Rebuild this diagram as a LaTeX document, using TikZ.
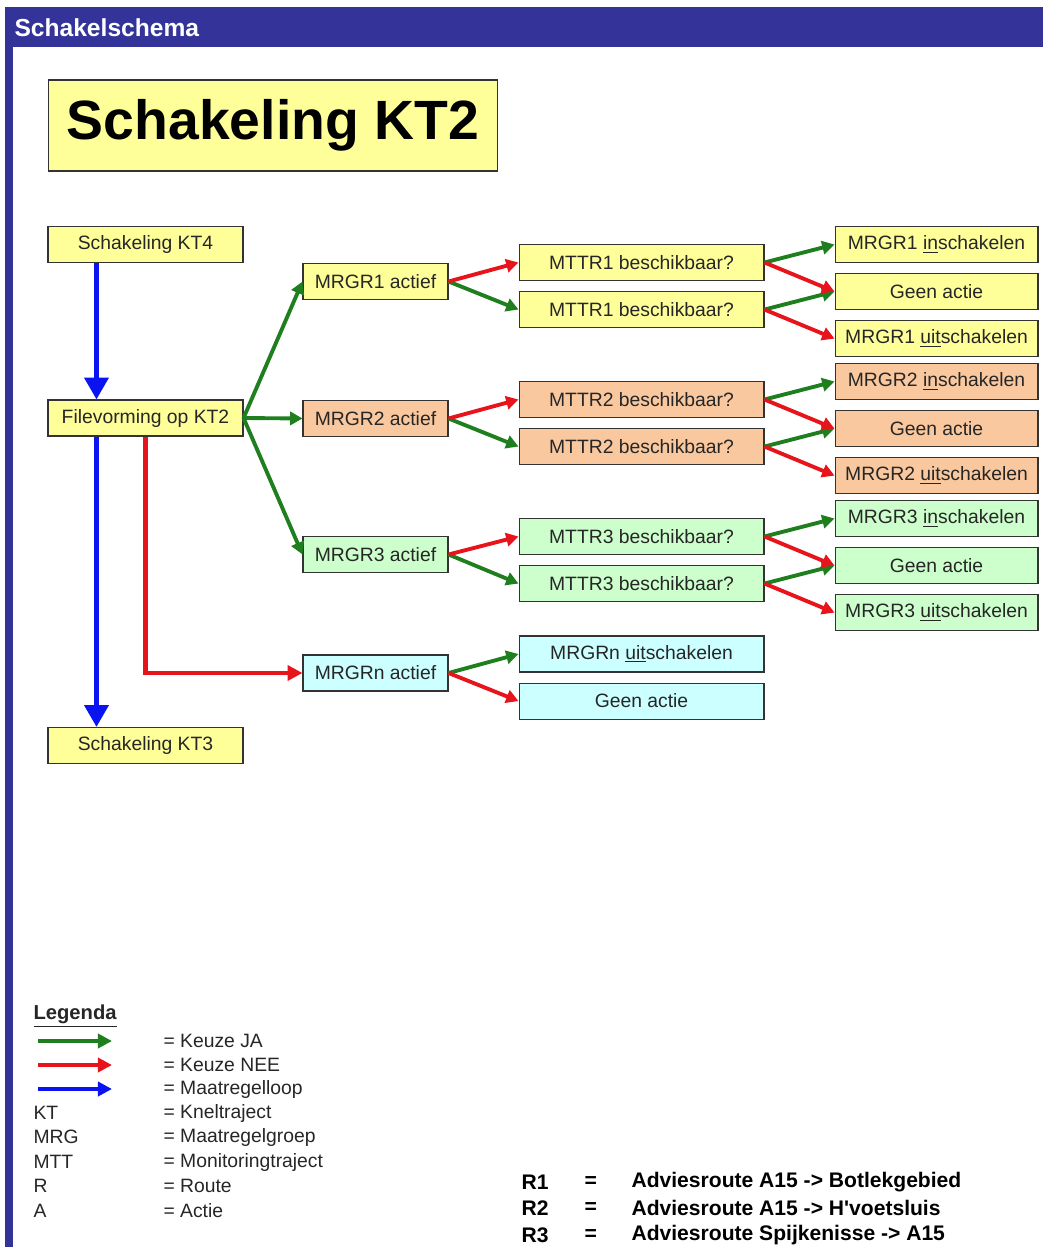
\documentclass[tikz,border=0pt]{standalone}
\usepackage{fontspec}
\setmainfont{Liberation Sans}
\usepackage{tikz}
\usetikzlibrary{positioning}
\usetikzlibrary{arrows.meta}
\usetikzlibrary{calc}
\definecolor{kopblauw}{HTML}{333399}
\definecolor{geel}{HTML}{FFFF99}
\definecolor{oranje}{HTML}{FAC89E}
\definecolor{lichtgroen}{HTML}{CCFFCC}
\definecolor{lichtblauw}{HTML}{CCFFFF}
\definecolor{jagroen}{HTML}{1F7F1F}
\definecolor{neerood}{HTML}{E8141B}
\definecolor{loopblauw}{HTML}{0A14F0}
\tikzset{box/.style={rectangle,draw=black!80,fill=#1,minimum height=0.72cm,inner sep=0pt,text=black!85,font=\fontsize{11}{13}\selectfont},
  start node/.style={box=#1,minimum width=3.9cm},
  actief node/.style={box=#1,minimum width=2.9cm},
  vraag node/.style={box=#1,minimum width=4.9cm},
  actie node/.style={box=#1,minimum width=4.06cm},
  ja/.style={draw=jagroen,line width=2.2pt,-{Triangle[length=7pt,width=7.5pt]}},
  nee/.style={draw=neerood,line width=2.2pt,-{Triangle[length=7pt,width=7.5pt]}},
  maatregel/.style={draw=loopblauw,line width=2.8pt,-{Triangle[length=12.5pt,width=13.5pt]}},
  legtekst/.style={anchor=west,inner sep=0pt,text=black!85,font=\fontsize{11}{13}\selectfont},
  routetekst/.style={anchor=west,inner sep=0pt,font=\fontsize{12}{14}\selectfont\bfseries},
}

\begin{document}
\begin{tikzpicture}[x=0.02cm, y=-0.02cm, semithick]
	% kader
	\useasboundingbox (0,0) rectangle (1043,1247);
	\fill[kopblauw] (5,7) rectangle (1043,47);
	\fill[kopblauw] (5,7) rectangle (13,1247);
	\node[anchor=west, inner sep=0pt, text=white, font=\fontsize{14}{16}\selectfont\bfseries] (kop) at (14,28) {Schakelschema};
	\node[box=geel, minimum width=9cm, minimum height=1.82cm, font=\fontsize{31.5}{36}\selectfont\bfseries, text=black] (titel) at (273,125.5) {Schakeling KT2};

	% linker kolom
	\node[start node=geel] (kt4) at (145.5,244.5) {Schakeling KT4};
	\node[start node=geel] (file) at (145.5,418) {Filevorming op KT2};
	\node[start node=geel] (kt3) at (145.5,745.5) {Schakeling KT3};

	% maatregelgroepen
	\node[actief node=geel] (mrgr1) at (375.5,281.5) {MRGR1 actief};
	\node[actief node=oranje] (mrgr2) at (375.5,418.5) {MRGR2 actief};
	\node[actief node=lichtgroen] (mrgr3) at (375.5,554.5) {MRGR3 actief};
	\node[actief node=lichtblauw] (mrgrn) at (375.5,673) {MRGRn actief};

	% monitoringtrajecten
	\node[vraag node=geel] (mttr1a) at (641.5,262.5) {MTTR1 beschikbaar?};
	\node[vraag node=geel] (mttr1b) [below = 0.2cm of mttr1a] {MTTR1 beschikbaar?};
	\node[vraag node=oranje] (mttr2a) at (641.5,399.5) {MTTR2 beschikbaar?};
	\node[vraag node=oranje] (mttr2b) [below = 0.2cm of mttr2a] {MTTR2 beschikbaar?};
	\node[vraag node=lichtgroen] (mttr3a) at (641.5,536.5) {MTTR3 beschikbaar?};
	\node[vraag node=lichtgroen] (mttr3b) [below = 0.2cm of mttr3a] {MTTR3 beschikbaar?};
	\node[vraag node=lichtblauw] (uitn) at (641.5,654) {MRGRn \underline{uit}schakelen};
	\node[vraag node=lichtblauw] (geenn) [below = 0.2cm of uitn] {Geen actie};

	% acties
	\node[actie node=geel] (in1) at (936.5,244.5) {MRGR1 \underline{in}schakelen};
	\node[actie node=geel] (geen1) [below = 0.2cm of in1] {Geen actie};
	\node[actie node=geel] (uit1) [below = 0.2cm of geen1] {MRGR1 \underline{uit}schakelen};
	\node[actie node=oranje] (in2) at (936.5,381.5) {MRGR2 \underline{in}schakelen};
	\node[actie node=oranje] (geen2) [below = 0.2cm of in2] {Geen actie};
	\node[actie node=oranje] (uit2) [below = 0.2cm of geen2] {MRGR2 \underline{uit}schakelen};
	\node[actie node=lichtgroen] (in3) at (936.5,518.5) {MRGR3 \underline{in}schakelen};
	\node[actie node=lichtgroen] (geen3) [below = 0.2cm of in3] {Geen actie};
	\node[actie node=lichtgroen] (uit3) [below = 0.2cm of geen3] {MRGR3 \underline{uit}schakelen};

	% maatregelloop
	\draw[maatregel] ([xshift=0.98cm]kt4.south west) -- ([xshift=0.98cm]file.north west);
	\draw[maatregel] ([xshift=0.98cm]file.south west) -- ([xshift=0.98cm]kt3.north west);
	\draw[nee, line width=2.8pt, -{Triangle[length=8.5pt,width=8.5pt]}] (file.south) |- (mrgrn.west);

	% keuzes
	\path
	(file.east) edge[ja] (mrgr1.west)
	(file.east) edge[ja] (mrgr2.west)
	(file.east) edge[ja] (mrgr3.west)
	(mrgr1.east) edge[ja] (mttr1b.west)
	(mrgr2.east) edge[ja] (mttr2b.west)
	(mrgr3.east) edge[ja] (mttr3b.west)
	(mrgrn.east) edge[ja] (uitn.west)
	(mttr1a.east) edge[ja] (in1.west)
	(mttr1b.east) edge[ja] (geen1.west)
	(mttr2a.east) edge[ja] (in2.west)
	(mttr2b.east) edge[ja] (geen2.west)
	(mttr3a.east) edge[ja] (in3.west)
	(mttr3b.east) edge[ja] (geen3.west)
	(mrgr1.east) edge[nee] (mttr1a.west)
	(mrgr2.east) edge[nee] (mttr2a.west)
	(mrgr3.east) edge[nee] (mttr3a.west)
	(mrgrn.east) edge[nee] (geenn.west)
	(mttr1a.east) edge[nee] (geen1.west)
	(mttr1b.east) edge[nee] (uit1.west)
	(mttr2a.east) edge[nee] (geen2.west)
	(mttr2b.east) edge[nee] (uit2.west)
	(mttr3a.east) edge[nee] (geen3.west)
	(mttr3b.east) edge[nee] (uit3.west);

	% legenda
	\node[legtekst, font=\fontsize{11.5}{13}\selectfont\bfseries] (legenda) at (33,1016) {\underline{Legenda}};
	\coordinate (jastart) at (38,1041);
	\coordinate (jaeind) at (112,1041);
	\coordinate (neestart) at (38,1065);
	\coordinate (neeeind) at (112,1065);
	\coordinate (loopstart) at (38,1089);
	\coordinate (loopeind) at (112,1089);
	\draw[ja, line width=2.6pt, -{Triangle[length=8pt,width=8pt]}] (jastart) -- (jaeind);
	\draw[nee, line width=2.6pt, -{Triangle[length=8pt,width=8pt]}] (neestart) -- (neeeind);
	\draw[maatregel, line width=2.6pt, -{Triangle[length=8pt,width=8pt]}] (loopstart) -- (loopeind);
	\node[legtekst] (lja) at (163,1041) {= Keuze JA};
	\node[legtekst] (lnee) at (163,1065) {= Keuze NEE};
	\node[legtekst] (lloop) at (163,1089) {= Maatregelloop};
	\node[legtekst] (kkt) at (33,1113) {KT};
	\node[legtekst] (lkt) at (163,1113) {= Kneltraject};
	\node[legtekst] (kmrg) at (33,1137) {MRG};
	\node[legtekst] (lmrg) at (163,1137) {= Maatregelgroep};
	\node[legtekst] (kmtt) at (33,1162) {MTT};
	\node[legtekst] (lmtt) at (163,1162) {= Monitoringtraject};
	\node[legtekst] (kr) at (33,1186) {R};
	\node[legtekst] (lr) at (163,1186) {= Route};
	\node[legtekst] (ka) at (33,1211) {A};
	\node[legtekst] (la) at (163,1211) {= Actie};

	% routes
	\node[routetekst] (r1) at (521,1182) {R1};
	\node[routetekst] (r1is) at (584,1182) {=};
	\node[routetekst] (r1txt) at (631,1182) {Adviesroute A15 -> Botlekgebied};
	\node[routetekst] (r2) at (521,1208) {R2};
	\node[routetekst] (r2is) at (584,1208) {=};
	\node[routetekst] (r2txt) at (631,1208) {Adviesroute A15 -> H\textquotesingle voetsluis};
	\node[routetekst] (r3) at (521,1235) {R3};
	\node[routetekst] (r3is) at (584,1235) {=};
	\node[routetekst] (r3txt) at (631,1235) {Adviesroute Spijkenisse -> A15};
\end{tikzpicture}
\end{document}
